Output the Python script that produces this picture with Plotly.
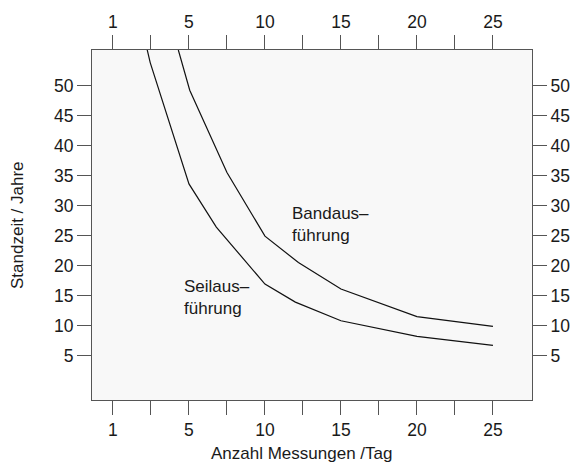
import plotly.graph_objects as go

# Data
seil_x = [2.2, 2.45, 5, 6.8, 10, 12, 15, 20, 25]
seil_y = [56.5, 53.8, 33.6, 26.4, 16.9, 13.9, 10.8, 8.2, 6.7]
band_x = [4.3, 5.05, 7.5, 10, 12.2, 15, 20, 25]
band_y = [55.9, 49.2, 35.5, 24.9, 20.5, 16.1, 11.5, 9.85]

x_tickvals = [0, 2.5, 5, 7.5, 10, 12.5, 15, 17.5, 20, 22.5, 25]
x_ticktext = ["1", "", "5", "", "10", "", "15", "", "20", "", "25"]
y_tickvals = [5, 10, 15, 20, 25, 30, 35, 40, 45, 50]
y_ticktext = [str(v) for v in y_tickvals]

FONT = "Liberation Sans, Arial, sans-serif"
TXT = "#1a1a1a"
AX = "#555555"
XR = [-1.38, 27.57]
YR = [-2.4, 55.9]

fig = go.Figure()
fig.add_trace(go.Scatter(x=seil_x, y=seil_y, mode="lines",
                         line=dict(color="#111111", width=1.2), showlegend=False,
                         hoverinfo="skip"))
fig.add_trace(go.Scatter(x=band_x, y=band_y, mode="lines",
                         line=dict(color="#111111", width=1.2), showlegend=False,
                         hoverinfo="skip"))
# invisible trace to activate mirrored axes
fig.add_trace(go.Scatter(x=[XR[0]], y=[YR[0]], xaxis="x2", yaxis="y2", mode="markers",
                         marker=dict(opacity=0), showlegend=False, hoverinfo="skip"))

axis_common = dict(ticks="outside", ticklen=14, tickwidth=1.2, tickcolor=AX,
                   showline=True, linecolor=AX, linewidth=1.2, showgrid=False,
                   zeroline=False, tickfont=dict(family=FONT, size=17.5, color=TXT),
                   tickmode="array")

fig.update_layout(
    width=584, height=466,
    margin=dict(l=92, r=52, t=46, b=66),
    paper_bgcolor="white", plot_bgcolor="#f8f8f8",
    font=dict(family=FONT, color=TXT),
    xaxis=dict(range=XR, tickvals=x_tickvals, ticktext=x_ticktext, side="bottom",
               **axis_common),
    yaxis=dict(range=YR, tickvals=y_tickvals, ticktext=y_ticktext, side="left",
               **axis_common),
    xaxis2=dict(range=XR, tickvals=x_tickvals, ticktext=x_ticktext, side="top",
                overlaying="x", anchor="y", **axis_common),
    yaxis2=dict(range=YR, tickvals=y_tickvals, ticktext=y_ticktext, side="right",
                overlaying="y", anchor="x", **axis_common),
)

fig.add_annotation(text="Bandaus–<br>führung", x=11.64, y=26.8, xref="x", yref="y",
                   xanchor="left", yanchor="middle", align="left", showarrow=False,
                   font=dict(family=FONT, size=17, color=TXT))
fig.add_annotation(text="Seilaus–<br>führung", x=4.54, y=14.6, xref="x", yref="y",
                   xanchor="left", yanchor="middle", align="left", showarrow=False,
                   font=dict(family=FONT, size=17, color=TXT))
fig.add_annotation(text="Anzahl Messungen /Tag", x=(301.5 - 92) / (532 - 92), y=0,
                   xref="paper", yref="paper", xanchor="center", yanchor="top",
                   yshift=-42, showarrow=False,
                   font=dict(family=FONT, size=17, color=TXT))
fig.add_annotation(text="Standzeit / Jahre", x=0, y=0.5, xref="paper", yref="paper",
                   xanchor="center", yanchor="middle", xshift=-75, textangle=-90,
                   showarrow=False, font=dict(family=FONT, size=17, color=TXT))

fig.write_html("out.html", config={"displayModeBar": False},
               post_script="document.body.style.margin='0';")
